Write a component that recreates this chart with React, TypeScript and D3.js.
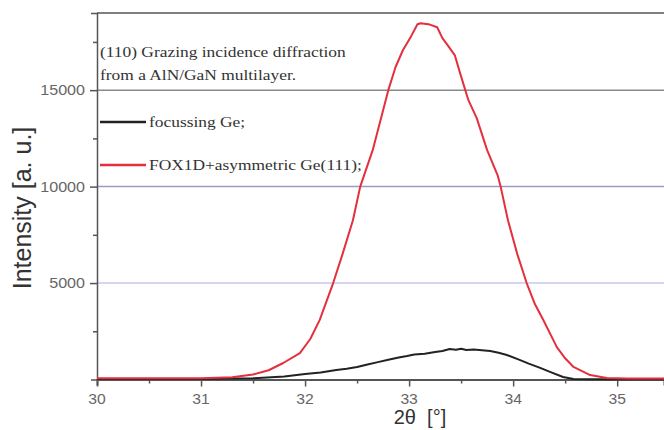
import React, { useEffect, useRef } from 'react'
import * as d3 from 'd3'

// FOX1D + asymmetric Ge(111)
const redTheta = [30.0, 30.5, 31.0, 31.3, 31.5, 31.65, 31.79, 31.95, 32.05, 32.14, 32.27, 32.36, 32.46, 32.53, 32.65, 32.8, 32.87, 32.94, 33.02, 33.08, 33.11, 33.2, 33.27, 33.32, 33.37, 33.44, 33.5, 33.57, 33.65, 33.75, 33.85, 33.88, 33.95, 34.04, 34.13, 34.21, 34.29, 34.42, 34.5, 34.58, 34.74, 34.9, 35.1, 35.45]
const redIntensity = [60, 60, 70, 120, 260, 480, 855, 1370, 2100, 3080, 5000, 6500, 8260, 10000, 11890, 15000, 16200, 17070, 17800, 18420, 18470, 18400, 18260, 17700, 17330, 16800, 15700, 14480, 13550, 11890, 10600, 10000, 8260, 6500, 5000, 3900, 3080, 1680, 1100, 650, 230, 80, 50, 50]

// focussing Ge
const blackTheta = [30.0, 30.5, 31.0, 31.5, 31.8, 32.0, 32.15, 32.3, 32.4, 32.5, 32.6, 32.7, 32.8, 32.9, 32.98, 33.05, 33.15, 33.25, 33.32, 33.39, 33.45, 33.5, 33.55, 33.62, 33.7, 33.78, 33.86, 33.94, 34.05, 34.15, 34.26, 34.36, 34.48, 34.58, 34.8, 35.45]
const blackIntensity = [20, 20, 30, 60, 150, 280, 360, 490, 560, 650, 780, 900, 1020, 1140, 1220, 1300, 1340, 1420, 1480, 1580, 1540, 1590, 1530, 1550, 1520, 1480, 1390, 1270, 1040, 820, 600, 380, 130, 30, 10, 10]

const xTicks = [30, 31, 32, 33, 34, 35]
const yTicks = [5000, 10000, 15000]
const gridColors = ['#c8c8f0', '#9a9ac8', '#8a8a8a']

const legendTitle = ['(110) Grazing incidence diffraction', 'from a AlN/GaN multilayer.']
const seriesNames = ['focussing Ge;', 'FOX1D+asymmetric Ge(111);']
const seriesColors = ['#222222', '#e3303c']

export default function App() {
  const ref = useRef<SVGSVGElement>(null)

  useEffect(() => {
    const svg = d3.select(ref.current)
    svg.selectAll('*').remove()
    const width = 664, height = 430
    const marge = { left: 97, top: 13, right: 0, bottom: 50.5 }
    const sans = '"Liberation Sans", Arial, sans-serif'
    const serif = '"Liberation Serif", "Times New Roman", serif'

    const xScale = d3.scaleLinear().domain([30, 35.45]).range([marge.left, width - marge.right])
    const yScale = d3.scaleLinear().domain([0, 19000]).range([height - marge.bottom, marge.top])

    svg.append('rect').attr('width', width).attr('height', height).attr('fill', '#fff')

    // grid lines
    yTicks.forEach((t, i) => {
      svg.append('line')
        .attr('x1', marge.left).attr('x2', width)
        .attr('y1', yScale(t)).attr('y2', yScale(t))
        .attr('stroke', gridColors[i]).attr('stroke-width', 1.5)
    })

    // top frame
    svg.append('line')
      .attr('x1', marge.left).attr('x2', width)
      .attr('y1', marge.top).attr('y2', marge.top)
      .attr('stroke', '#555').attr('stroke-width', 1.5)

    // axes
    const xAxis = d3.axisBottom(xScale)
      .tickValues(d3.range(30, 35.51, 0.5))
      .tickSize(6)
      .tickFormat(() => '')
    const gx = svg.append('g')
      .attr('transform', `translate(0,${yScale(0)})`)
      .call(xAxis)
    gx.select('.domain').attr('stroke', '#555').attr('stroke-width', 2)
    gx.selectAll('.tick line')
      .attr('stroke', '#555').attr('stroke-width', 1.5)
      .attr('y2', (d: any) => (xTicks.includes(+d) ? 7 : 4))
    xTicks.forEach(t => {
      svg.append('text')
        .attr('transform', `translate(${xScale(t)},${yScale(0) + 24}) scale(1.12,1)`)
        .attr('text-anchor', 'middle')
        .attr('font-family', sans).attr('font-size', 14).attr('fill', '#666')
        .text(t)
    })

    const yAxis = d3.axisLeft(yScale)
      .tickValues(d3.range(2500, 19000, 2500))
      .tickSize(6)
      .tickFormat(() => '')
    const gy = svg.append('g')
      .attr('transform', `translate(${marge.left},0)`)
      .call(yAxis)
    gy.select('.domain').attr('stroke', '#555').attr('stroke-width', 1.5)
    gy.selectAll('.tick line')
      .attr('stroke', '#555').attr('stroke-width', 1.5)
      .attr('x2', (d: any) => (yTicks.includes(+d) ? -7 : -4))
    yTicks.forEach(t => {
      svg.append('text')
        .attr('transform', `translate(${marge.left - 12},${yScale(t) + 5}) scale(1.15,1)`)
        .attr('text-anchor', 'end')
        .attr('font-family', sans).attr('font-size', 14).attr('fill', '#666')
        .text(t)
    })

    // curves
    const line = d3.line<[number, number]>()
      .x(d => xScale(d[0]))
      .y(d => yScale(d[1]))
    const series = [
      d3.zip(blackTheta, blackIntensity) as [number, number][],
      d3.zip(redTheta, redIntensity) as [number, number][],
    ]
    series.forEach((pts, i) => {
      svg.append('path')
        .attr('d', line(pts))
        .attr('fill', 'none')
        .attr('stroke', seriesColors[i])
        .attr('stroke-width', 2)
        .attr('stroke-linejoin', 'round')
    })

    // legend
    legendTitle.forEach((t, i) => {
      svg.append('text')
        .attr('transform', `translate(100,${57 + i * 23}) scale(1.16,1)`)
        .attr('font-family', serif).attr('font-size', 15).attr('fill', '#333')
        .text(t)
    })
    seriesNames.forEach((t, i) => {
      const y = 122 + i * 43
      svg.append('line')
        .attr('x1', 100).attr('x2', 146).attr('y1', y).attr('y2', y)
        .attr('stroke', seriesColors[i]).attr('stroke-width', 2.5)
      svg.append('text')
        .attr('transform', `translate(149,${y + 5}) scale(1.16,1)`)
        .attr('font-family', serif).attr('font-size', 15).attr('fill', '#333')
        .text(t)
    })

    // axis titles
    svg.append('text')
      .attr('transform', 'translate(31,208) rotate(-90)')
      .attr('text-anchor', 'middle')
      .attr('font-family', sans)
      .attr('font-size', 25).attr('fill', '#333')
      .text('Intensity [a. u.]')
    svg.append('text')
      .attr('x', 420).attr('y', 424)
      .attr('text-anchor', 'middle')
      .attr('font-family', sans)
      .attr('font-size', 20).attr('fill', '#333')
      .style('white-space', 'pre')
      .text('2θ  [°]')
  }, [])

  return (
    <div>
      <svg ref={ref} width='664' height='430' style={{ position: 'absolute', left: 0, top: 0 }}></svg>
    </div>
  )
}
